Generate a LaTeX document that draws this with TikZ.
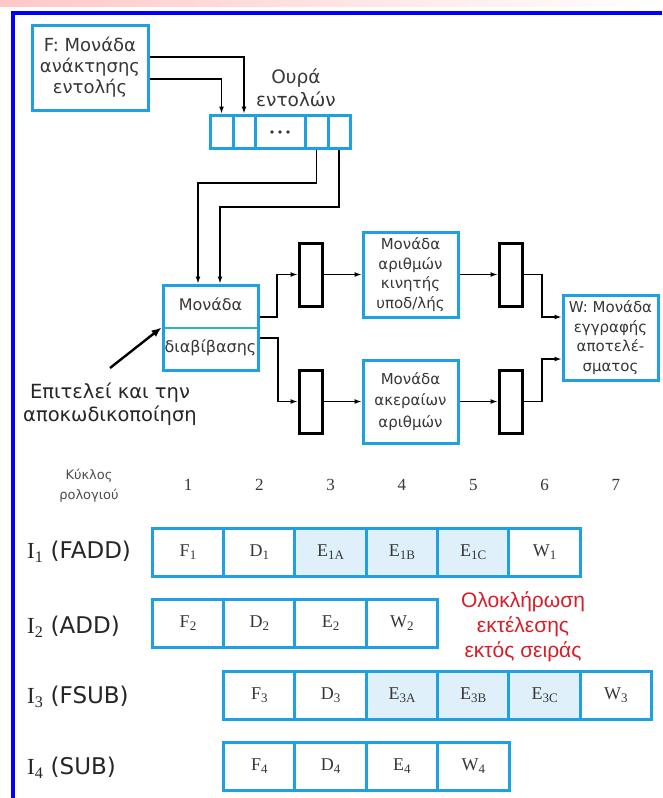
\documentclass[tikz,border=0pt]{standalone}
\usepackage{fontspec}
\setmainfont{DejaVu Sans}
\newfontfamily\serifx{Liberation Serif}
\newfontfamily\arialx{Liberation Sans}
\usetikzlibrary{arrows.meta}
\definecolor{bx}{RGB}{30,160,225}
\definecolor{bxfill}{RGB}{224,240,251}
\definecolor{frameblue}{RGB}{0,0,255}
\definecolor{txt}{RGB}{55,55,55}
\definecolor{divg}{RGB}{40,185,170}
\definecolor{redt}{RGB}{215,30,40}
\newcommand\sbx[1]{\raisebox{-0.35ex}{\fontsize{13}{13}\selectfont #1}}
\begin{document}
\begin{tikzpicture}[x=1pt,y=-1pt,
  unit/.style={draw=bx,line width=3pt,fill=white,inner sep=0pt,outer sep=1.5pt,align=center,text=txt},
  latch/.style={draw=black,line width=3pt,fill=white,minimum width=23pt,minimum height=63pt,inner sep=0pt,outer sep=1.5pt},
  arr/.style={line width=1.3pt,-{Latex[length=7pt,width=5pt]}},
  cell/.style={draw=bx,line width=3pt,minimum width=71.4pt,minimum height=48pt,inner sep=0pt,font=\serifx\fontsize{18}{20}\selectfont,text=txt,fill=white},
  ecell/.style={cell,fill=bxfill},
  lbl/.style={text=txt,align=center,inner sep=0pt},
  ilabel/.style={anchor=west,text=black!85,inner sep=0pt,font=\fontsize{23}{26}\selectfont},
  cyc/.style={text=txt,inner sep=0pt,font=\serifx\fontsize{17}{18}\selectfont},
  qdot/.style={fill=txt,draw=none}
]
\useasboundingbox (0,0) rectangle (662,798);
\fill[white] (0,0) rectangle (662,798);
\shade[left color=red!22!white,right color=white] (0,0) rectangle (662,6);
\draw[frameblue,line width=4pt] (12.5,798) -- (12.5,13) -- (662,13);

% fetch unit
\node[unit,minimum width=116pt,minimum height=85pt,font=\fontsize{18}{21}\selectfont] (F) at (90,67.5) {F: Μονάδα\\ανάκτησης\\εντολής};

% queue
\node[unit,minimum width=23pt,minimum height=33pt] (q1) at (221.5,131.5) {};
\node[unit,minimum width=22pt,minimum height=33pt] (q2) at (244,131.5) {};
\node[unit,minimum width=50pt,minimum height=33pt] (q3) at (280,131.5) {};
\node[unit,minimum width=23pt,minimum height=33pt] (q4) at (316.5,131.5) {};
\node[unit,minimum width=22pt,minimum height=33pt] (q5) at (339,131.5) {};
\fill[qdot] (272,132) circle (1.8) (280,132) circle (1.8) (288,132) circle (1.8);
\node[lbl,font=\fontsize{18.5}{23}\selectfont] (ql) at (296,88) {Ουρά\\εντολών};

\coordinate (fa) at (0,57);
\coordinate (fb) at (0,79);
\draw[arr] (F.east |- fa) -| (q2.north);
\draw[arr] (F.east |- fb) -| (q1.north);

% dispatch unit
\node[unit,minimum width=95pt,minimum height=85pt] (D) at (210.5,327.5) {};
\draw[divg,line width=1.6pt] (164.5,328) -- (256.5,328);
\node[lbl,font=\fontsize{16}{19}\selectfont] (Dt1) at (210.5,304) {Μονάδα};
\node[lbl,font=\fontsize{16}{19}\selectfont] (Dt2) at (210.5,348) {διαβίβασης};

\coordinate (k1) at (198,183);
\coordinate (k2) at (220,207);
\draw[arr] (q4.south) |- (k1) -- (k1 |- D.north);
\draw[arr] (q5.south) |- (k2) -- (k2 |- D.north);

% latches and units
\node[latch] (L1) at (310.5,274.5) {};
\node[latch] (L2) at (310.5,401.5) {};
\node[latch] (L3) at (510.5,274.5) {};
\node[latch] (L4) at (510.5,401.5) {};
\node[unit,minimum width=95pt,minimum height=85pt,font=\fontsize{15}{19.6}\selectfont] (FP) at (410.5,274.5) {Μονάδα\\αριθμών\\κινητής\\υποδ/λής};
\node[unit,minimum width=95pt,minimum height=83pt,font=\fontsize{15}{21.5}\selectfont] (Int) at (410.5,401.5) {Μονάδα\\ακεραίων\\αριθμών};
\node[unit,minimum width=95pt,minimum height=85pt,font=\fontsize{15}{19.6}\selectfont] (W) at (610.5,337.5) {W: Μονάδα\\εγγραφής\\αποτελέ-\\σματος};

\coordinate (j1) at (277,317);
\coordinate (j2) at (278,338);
\draw[arr] (D.east |- j1) -- (j1) |- (L1.west);
\draw[arr] (D.east |- j2) -- (j2) |- (L2.west);
\draw[arr] (L1.east) -- (FP.west);
\draw[arr] (L2.east) -- (Int.west);
\draw[arr] (FP.east) -- (L3.west);
\draw[arr] (Int.east) -- (L4.west);
\coordinate (j3) at (542,317);
\coordinate (j4) at (542,359);
\draw[arr] (L3.east) -| (j3) -- (W.west |- j3);
\draw[arr] (L4.east) -| (j4) -- (W.west |- j4);

% annotation
\coordinate (an) at (110,368);
\draw[line width=2.4pt,-{Latex[length=10pt,width=8pt]}] (an) -- (D.west);
\node[lbl,text=black!85,font=\fontsize{19.5}{23}\selectfont] (ann) at (110,404) {Επιτελεί και την\\αποκωδικοποίηση};

% timing diagram
\node[lbl,text=black!70,font=\fontsize{13}{20}\selectfont] (kl) at (89,486) {Κύκλος\\ρολογιού};
\foreach \c in {1,...,7}{
  \node[cyc] (n\c) at ({188+71.33*(\c-1)},485) {\c};
}
\foreach \c/\t/\s in {1/F\sbx{1}/cell,2/D\sbx{1}/cell,3/E\sbx{1A}/ecell,4/E\sbx{1B}/ecell,5/E\sbx{1C}/ecell,6/W\sbx{1}/cell}{
  \node[\s] (ra\c) at ({188+71.33*(\c-1)},552) {\t};
}
\foreach \c/\t/\s in {1/F\sbx{2}/cell,2/D\sbx{2}/cell,3/E\sbx{2}/cell,4/W\sbx{2}/cell}{
  \node[\s] (rb\c) at ({188+71.33*(\c-1)},623) {\t};
}
\foreach \c/\t/\s in {2/F\sbx{3}/cell,3/D\sbx{3}/cell,4/E\sbx{3A}/ecell,5/E\sbx{3B}/ecell,6/E\sbx{3C}/ecell,7/W\sbx{3}/cell}{
  \node[\s] (rc\c) at ({188+71.33*(\c-1)},695.5) {\t};
}
\foreach \c/\t/\s in {2/F\sbx{4}/cell,3/D\sbx{4}/cell,4/E\sbx{4}/cell,5/W\sbx{4}/cell}{
  \node[\s] (rd\c) at ({188+71.33*(\c-1)},766.5) {\t};
}

\node[ilabel] (i1) at (27,552) {{\serifx I\textsubscript{1}} (FADD)};
\node[ilabel] (i2) at (27,627) {{\serifx I\textsubscript{2}} (ADD)};
\node[ilabel] (i3) at (27,697) {{\serifx I\textsubscript{3}} (FSUB)};
\node[ilabel] (i4) at (27,768) {{\serifx I\textsubscript{4}} (SUB)};

\node[lbl,text=redt,font=\arialx\fontsize{21}{25}\selectfont] (oo) at (523,627) {Ολοκλήρωση\\εκτέλεσης\\εκτός σειράς};
\end{tikzpicture}
\end{document}
